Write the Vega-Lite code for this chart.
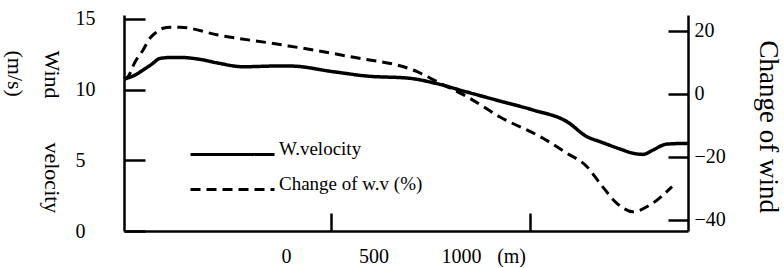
{
  "$schema": "https://vega.github.io/schema/vega-lite/v6.json",
  "width": 564,
  "height": 216,
  "autosize": {"type": "none"},
  "padding": {"left": 124, "top": 15, "right": 96, "bottom": 37},
  "background": "white",
  "config": {
    "view": {"stroke": null},
    "font": "Liberation Serif",
    "axis": {
      "grid": false,
      "domainColor": "black",
      "tickColor": "black",
      "labelColor": "black",
      "titleColor": "black",
      "labelFont": "Liberation Serif",
      "titleFont": "Liberation Serif",
      "titleFontWeight": "normal",
      "domainWidth": 2.5,
      "tickWidth": 2.5,
      "labelFontSize": 20,
      "labelOverlap": false,
      "labelFlush": false
    }
  },
  "data": {
    "values": [
      {"series": "W.velocity", "x": -926, "v": 10.75},
      {"series": "W.velocity", "x": -863, "v": 11.03},
      {"series": "W.velocity", "x": -817, "v": 11.39},
      {"series": "W.velocity", "x": -766, "v": 11.81},
      {"series": "W.velocity", "x": -720, "v": 12.21},
      {"series": "W.velocity", "x": -646, "v": 12.28},
      {"series": "W.velocity", "x": -606, "v": 12.28},
      {"series": "W.velocity", "x": -491, "v": 12.14},
      {"series": "W.velocity", "x": -389, "v": 11.88},
      {"series": "W.velocity", "x": -246, "v": 11.62},
      {"series": "W.velocity", "x": -51, "v": 11.67},
      {"series": "W.velocity", "x": 23, "v": 11.67},
      {"series": "W.velocity", "x": 269, "v": 11.27},
      {"series": "W.velocity", "x": 463, "v": 10.96},
      {"series": "W.velocity", "x": 709, "v": 10.8},
      {"series": "W.velocity", "x": 840, "v": 10.49},
      {"series": "W.velocity", "x": 1034, "v": 9.83},
      {"series": "W.velocity", "x": 1223, "v": 9.19},
      {"series": "W.velocity", "x": 1411, "v": 8.56},
      {"series": "W.velocity", "x": 1606, "v": 7.73},
      {"series": "W.velocity", "x": 1720, "v": 6.67},
      {"series": "W.velocity", "x": 1794, "v": 6.32},
      {"series": "W.velocity", "x": 1909, "v": 5.8},
      {"series": "W.velocity", "x": 1983, "v": 5.5},
      {"series": "W.velocity", "x": 2040, "v": 5.42},
      {"series": "W.velocity", "x": 2097, "v": 5.73},
      {"series": "W.velocity", "x": 2177, "v": 6.15},
      {"series": "W.velocity", "x": 2297, "v": 6.2},
      {"series": "Change of w.v (%)", "x": -926, "v": 4.72},
      {"series": "Change of w.v (%)", "x": -903, "v": 5.45},
      {"series": "Change of w.v (%)", "x": -863, "v": 10.12},
      {"series": "Change of w.v (%)", "x": -817, "v": 13.93},
      {"series": "Change of w.v (%)", "x": -777, "v": 17.75},
      {"series": "Change of w.v (%)", "x": -749, "v": 19.24},
      {"series": "Change of w.v (%)", "x": -703, "v": 20.83},
      {"series": "Change of w.v (%)", "x": -663, "v": 21.15},
      {"series": "Change of w.v (%)", "x": -606, "v": 21.15},
      {"series": "Change of w.v (%)", "x": -389, "v": 18.7},
      {"series": "Change of w.v (%)", "x": -17, "v": 15.52},
      {"series": "Change of w.v (%)", "x": 366, "v": 11.8},
      {"series": "Change of w.v (%)", "x": 749, "v": 7.04},
      {"series": "Change of w.v (%)", "x": 863, "v": 3.86},
      {"series": "Change of w.v (%)", "x": 1034, "v": -0.91},
      {"series": "Change of w.v (%)", "x": 1223, "v": -7.36},
      {"series": "Change of w.v (%)", "x": 1469, "v": -14.13},
      {"series": "Change of w.v (%)", "x": 1606, "v": -18.9},
      {"series": "Change of w.v (%)", "x": 1720, "v": -23.16},
      {"series": "Change of w.v (%)", "x": 1794, "v": -28.44},
      {"series": "Change of w.v (%)", "x": 1891, "v": -34.79},
      {"series": "Change of w.v (%)", "x": 1983, "v": -37.47},
      {"series": "Change of w.v (%)", "x": 2080, "v": -35.33},
      {"series": "Change of w.v (%)", "x": 2206, "v": -29.52}
    ]
  },
  "layer": [
    {
      "transform": [{"filter": "datum.series === 'W.velocity'"}],
      "mark": {"type": "line", "interpolate": "monotone", "color": "black", "strokeWidth": 3.5},
      "encoding": {
        "x": {
          "field": "x", "type": "quantitative",
          "scale": {"domain": [-926, 2297], "nice": false, "zero": false},
          "axis": {
            "orient": "bottom", "title": null, "values": [0, 500, 1000, 1286],
            "format": "d", "labelExpr": "datum.value > 1200 ? '(m)' : datum.label",
            "ticks": false, "domain": true, "labelPadding": 15
          }
        },
        "y": {
          "field": "v", "type": "quantitative",
          "scale": {"domain": [0, 15.28], "nice": false, "zero": false},
          "axis": {
            "orient": "left", "values": [0, 5, 10, 15], "tickSize": -21,
            "labelAlign": "left", "labelPadding": 70,
            "title": ["Wind\u00a0\u00a0\u00a0\u00a0\u00a0\u00a0\u00a0\u00a0velocity", "(m/s)"],
            "titleAngle": 90, "titleAlign": "left", "titleBaseline": "alphabetic",
            "titleX": -80, "titleY": 35, "titleFontSize": 22, "titleLineHeight": 37
          }
        },
        "strokeDash": {
          "field": "series", "type": "nominal",
          "scale": {"domain": ["W.velocity", "Change of w.v (%)"], "range": [[1, 0], [10, 6]]},
          "legend": {
            "orient": "none", "legendX": 65, "legendY": 127.5, "title": null,
            "symbolType": "M-1,0H7", "symbolSize": 441, "symbolStrokeWidth": 3,
            "symbolStrokeColor": "black", "labelFont": "Liberation Serif",
            "labelFontSize": 19, "labelColor": "black", "labelOffset": 66,
            "labelLimit": 300, "rowPadding": 14, "padding": 0, "labelBaseline": "alphabetic"
          }
        }
      }
    },
    {
      "transform": [{"filter": "datum.series !== 'W.velocity'"}],
      "mark": {"type": "line", "interpolate": "monotone", "color": "black", "strokeWidth": 3},
      "encoding": {
        "x": {
          "field": "x", "type": "quantitative",
          "scale": {"domain": [-926, 2297], "nice": false, "zero": false},
          "axis": {
            "orient": "bottom", "title": null, "values": [257, 1394],
            "labels": false, "domain": false, "tickSize": -18
          }
        },
        "y": {
          "field": "v", "type": "quantitative",
          "scale": {"domain": [-43.6, 25.06], "nice": false, "zero": false},
          "axis": {
            "orient": "right", "values": [-40, -20, 0, 20], "tickSize": -20,
            "labelPadding": 26, "title": "Change of wind",
            "titleAngle": 90, "titleAlign": "left", "titleBaseline": "alphabetic",
            "titleX": 71, "titleY": 25, "titleFontSize": 27
          }
        },
        "strokeDash": {
          "field": "series", "type": "nominal",
          "scale": {"domain": ["W.velocity", "Change of w.v (%)"], "range": [[1, 0], [10, 6]]}
        }
      }
    }
  ],
  "resolve": {"scale": {"y": "independent"}, "axis": {"x": "independent"}}
}
